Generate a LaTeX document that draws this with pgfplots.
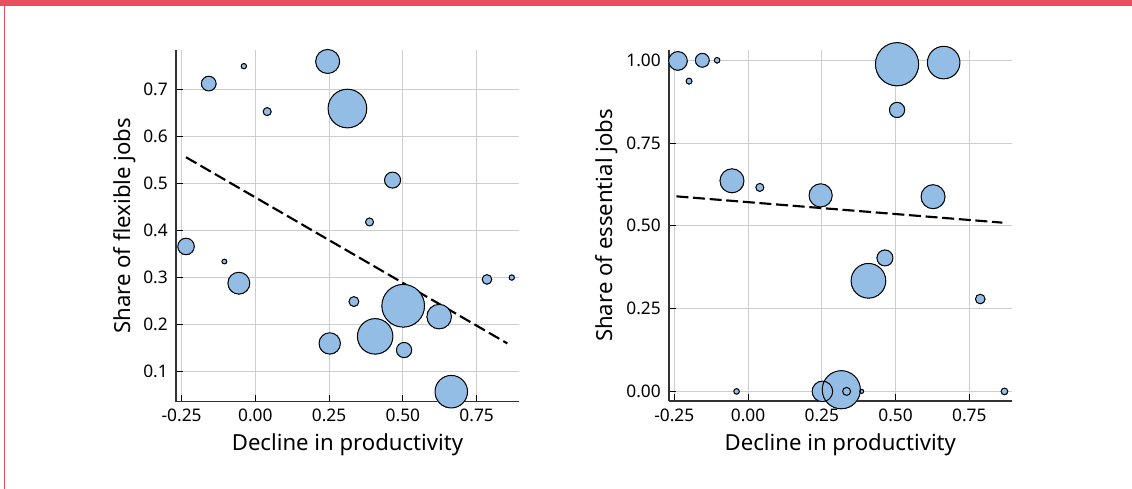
\documentclass[border=0pt]{standalone}
\usepackage{pgfplots}
\pgfplotsset{compat=1.18}
\usepackage{fontspec}
\setmainfont{Noto Sans}
\definecolor{bubble}{RGB}{148,189,229}
\definecolor{redbar}{RGB}{232,80,96}
\definecolor{gridc}{RGB}{205,205,205}
\definecolor{axisc}{RGB}{50,50,50}

% bubbles: x, y, radius (pt)
\def\flexlist#1{%
#1{0.245}{0.759}{9.0}%
#1{-0.158}{0.712}{5.5}%
#1{-0.039}{0.749}{2.0}%
#1{0.040}{0.6525}{3.0}%
#1{0.312}{0.659}{14.5}%
#1{0.465}{0.507}{6.0}%
#1{0.387}{0.418}{3.0}%
#1{-0.235}{0.366}{6.2}%
#1{-0.105}{0.334}{1.8}%
#1{-0.056}{0.288}{8.2}%
#1{0.334}{0.249}{3.7}%
#1{0.501}{0.240}{16.0}%
#1{0.623}{0.217}{9.2}%
#1{0.406}{0.175}{13.3}%
#1{0.252}{0.160}{8.0}%
#1{0.504}{0.146}{5.7}%
#1{0.664}{0.0575}{12.2}%
#1{0.785}{0.296}{3.6}%
#1{0.869}{0.300}{2.0}%
}
\def\esslist#1{%
#1{-0.2376}{0.998}{7.0}%
#1{-0.155}{1.0}{5.2}%
#1{-0.105}{1.0}{2.1}%
#1{-0.200}{0.937}{2.2}%
#1{0.663}{0.993}{12.2}%
#1{0.505}{0.850}{5.7}%
#1{-0.0545}{0.636}{9.0}%
#1{0.040}{0.616}{3.0}%
#1{0.246}{0.592}{8.7}%
#1{0.627}{0.588}{9.0}%
#1{0.464}{0.403}{6.0}%
#1{0.408}{0.334}{13.0}%
#1{0.787}{0.279}{3.6}%
#1{-0.039}{0.0}{2.1}%
#1{0.252}{0.0}{7.7}%
#1{0.316}{0.005}{14.3}%
#1{0.334}{0.0}{3.0}%
#1{0.385}{0.0}{1.5}%
#1{0.869}{0.0}{2.5}%
}
\def\essbig#1{#1{0.505}{0.988}{16.2}}

\newcommand{\bubf}[3]{\addplot[only marks, mark=*, mark size=#3pt, mark options={fill=bubble, draw=bubble, line width=0pt}] coordinates {(#1,#2)};}
\newcommand{\bubl}[3]{\addplot[only marks, mark=o, mark size=#3pt, mark options={draw=black, line width=0.75pt}] coordinates {(#1,#2)};}

\pgfplotsset{
  myaxis/.style={
    scale only axis,
    anchor=south west,
    axis lines=left,
    axis line style={-, draw=axisc, line width=1pt},
    tick align=inside,
    major tick length=5.25pt,
    tick style={draw=black, line width=0.75pt},
    grid=major,
    grid style={draw=gridc, line width=0.75pt},
    xtick={-0.25,0,0.25,0.5,0.75},
    xticklabels={-0.25,0.00,0.25,0.50,0.75},
    xticklabel style={font=\fontsize{13}{15.6}\selectfont, anchor=base, yshift=-15.2pt, inner sep=0pt},
    yticklabel style={font=\fontsize{13}{15.6}\selectfont, anchor=east, inner sep=0pt, xshift=-6pt},
    xlabel style={font=\fontsize{16.6}{20}\selectfont, at={(axis description cs:0.5,0)}, anchor=base, yshift=-37pt},
    ylabel style={font=\fontsize{16.6}{20}\selectfont, at={(axis description cs:0,0.5)}, anchor=center},
  },
}

\begin{document}
\begin{tikzpicture}
\path[fill=white] (0,0) rectangle (849pt,366.75pt);
\fill[redbar] (0,362.5pt) rectangle (849pt,366.75pt);
\fill[redbar] (2.7pt,0) rectangle (3.75pt,366.75pt);

\begin{axis}[myaxis,
  at={(132pt,65.5pt)}, width=257.25pt, height=263.8pt,
  xmin=-0.269, xmax=0.8935, ymin=0.0363, ymax=0.7835,
  ytick={0.1,0.2,0.3,0.4,0.5,0.6,0.7},
  yticklabels={0.1,0.2,0.3,0.4,0.5,0.6,0.7},
  xlabel={Decline in productivity},
  ylabel={Share of flexible jobs},
  ylabel style={yshift=38.3pt},
]
\flexlist\bubf
\flexlist\bubl
\addplot[black, line width=1.6pt, dash pattern=on 9pt off 3.5pt] coordinates {(-0.235,0.5555) (0.854,0.160)};
\end{axis}

\begin{axis}[myaxis,
  at={(501.75pt,66pt)}, width=257pt, height=263.25pt,
  xmin=-0.268, xmax=0.8935, ymin=-0.029, ymax=1.031,
  ytick={0,0.25,0.5,0.75,1},
  yticklabels={0.00,0.25,0.50,0.75,1.00},
  xlabel={Decline in productivity},
  ylabel={Share of essential jobs},
  ylabel style={yshift=46.5pt},
]
\esslist\bubf
\esslist\bubl
\addplot[black, line width=1.6pt, dash pattern=on 9pt off 3.5pt] coordinates {(-0.243,0.589) (0.862,0.5096)};
\end{axis}

\begin{axis}[scale only axis, anchor=south west, hide axis, clip=false,
  at={(501.75pt,66pt)}, width=257pt, height=263.25pt,
  xmin=-0.268, xmax=0.8935, ymin=-0.029, ymax=1.031]
\essbig\bubf
\essbig\bubl
\end{axis}
\end{tikzpicture}
\end{document}
